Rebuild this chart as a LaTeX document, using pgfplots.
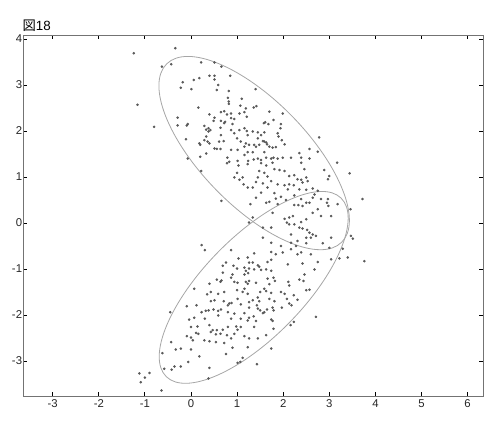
\documentclass[border=0pt]{standalone}
\usepackage{pgfplots}
\pgfplotsset{compat=1.18}
\usepackage{pgfplotstable}
\usepackage{fontspec}
\setmainfont{Liberation Sans}
\newfontfamily\cjk{Noto Sans CJK JP}

\pgfplotstableread{
x y
-0.34 3.80
-1.24 3.69
-0.63 3.40
-0.43 3.45
0.22 3.49
0.51 3.49
0.66 3.40
0.40 3.20
0.51 3.20
0.51 3.12
0.85 3.20
0.06 3.11
0.18 3.15
-0.18 3.06
-0.22 2.94
0.01 2.91
0.59 3.00
0.56 2.89
0.82 2.87
0.80 2.72
1.10 2.70
0.82 2.64
0.82 2.59
-1.16 2.57
0.16 2.51
1.07 2.55
1.19 2.49
0.65 2.41
0.72 2.43
0.78 2.36
0.87 2.38
1.05 2.38
1.16 2.41
0.40 2.36
0.51 2.29
-0.29 2.29
0.94 2.26
0.49 2.22
0.65 2.22
0.74 2.20
0.87 2.28
1.21 2.31
-0.80 2.09
-0.29 2.12
-0.09 2.12
-0.07 2.15
0.29 2.11
0.38 2.06
0.33 2.03
0.38 1.99
0.42 2.02
0.64 2.07
0.72 2.17
0.90 2.15
0.87 2.02
1.05 2.02
1.16 2.06
1.21 2.00
0.94 1.95
1.23 1.91
0.33 1.88
0.65 1.91
0.29 1.80
0.36 1.77
1.00 1.84
1.08 1.77
1.19 1.73
-0.11 1.82
0.18 1.73
0.20 1.70
0.40 1.73
0.61 1.77
0.71 1.78
0.51 1.62
0.56 1.61
0.64 1.61
1.16 1.66
1.26 1.70
0.87 1.59
1.01 1.59
0.33 1.51
1.23 1.54
1.16 1.48
1.40 2.91
1.36 2.51
1.42 2.54
1.70 2.42
1.99 2.38
1.61 2.19
1.58 2.17
1.68 2.15
1.79 2.24
1.95 2.15
1.94 2.06
1.34 1.99
1.45 1.97
1.59 1.97
1.52 1.91
1.88 1.95
1.90 1.88
1.97 1.80
1.45 1.84
1.56 1.78
1.59 1.77
1.63 1.75
1.65 1.71
1.37 1.70
1.48 1.70
1.41 1.66
1.70 1.66
1.77 1.64
1.84 1.65
2.03 1.71
1.59 1.54
1.34 1.54
2.35 1.52
2.57 1.61
2.75 1.55
2.78 1.86
-0.07 1.40
0.20 1.44
0.79 1.42
0.83 1.33
0.78 1.30
1.01 1.35
1.03 1.25
1.23 1.28
1.24 1.35
0.22 1.13
1.00 1.09
0.94 0.99
1.12 0.99
1.05 0.94
1.14 0.84
1.23 0.77
0.66 0.48
1.29 0.41
1.26 0.01
1.36 1.38
1.45 1.40
1.52 1.37
1.63 1.42
1.74 1.40
1.79 1.42
1.88 1.40
1.99 1.42
2.17 1.42
2.39 1.42
2.57 1.40
1.52 1.30
1.63 1.25
1.77 1.31
1.81 1.17
1.92 1.15
2.03 1.13
2.39 1.31
2.46 1.17
1.48 1.13
1.59 1.09
1.45 0.99
1.66 1.01
1.74 0.91
1.41 0.89
2.13 1.02
2.24 1.04
2.31 0.95
2.39 0.94
2.50 0.99
2.53 0.91
2.42 0.88
2.89 1.15
3.17 1.31
3.44 1.08
3.00 1.02
2.97 0.95
1.34 0.77
1.56 0.86
1.88 0.84
2.03 0.82
2.13 0.84
2.23 0.82
2.10 0.73
2.35 0.73
2.50 0.72
2.64 0.75
1.66 0.77
2.24 0.60
2.75 0.70
2.68 0.62
2.64 0.55
2.82 0.52
2.97 0.52
1.81 0.65
1.84 0.53
1.95 0.57
1.52 0.66
1.41 0.55
1.63 0.44
1.70 0.46
1.88 0.41
2.06 0.50
2.39 0.52
2.50 0.44
2.24 0.39
2.33 0.39
2.42 0.37
2.57 0.44
2.95 0.44
2.98 0.37
2.75 0.30
2.64 0.22
3.18 0.41
3.46 0.30
3.72 0.52
1.34 0.12
1.77 0.22
2.03 0.09
2.13 0.12
2.21 0.15
2.08 0.01
2.13 -0.03
2.24 -0.03
2.39 0.02
2.50 0.08
2.82 0.15
3.04 0.15
1.56 -0.10
1.74 -0.10
2.35 -0.10
2.42 -0.12
2.52 -0.15
2.57 -0.21
2.64 -0.25
2.60 -0.32
2.71 -0.28
3.04 -0.32
2.17 -0.25
2.31 -0.39
2.50 -0.32
1.56 -0.32
1.74 -0.43
1.95 -0.50
2.17 -0.43
2.28 -0.50
2.50 -0.44
2.86 -0.44
3.00 -0.54
3.29 -0.56
3.47 -0.28
3.51 -0.34
1.37 -0.66
1.74 -0.63
1.84 -0.68
1.99 -0.64
2.17 -0.57
2.31 -0.68
2.39 -0.64
2.60 -0.68
1.34 -0.86
1.45 -0.92
1.48 -0.95
1.66 -0.85
1.74 -0.80
2.10 -0.90
2.42 -0.88
2.75 -0.85
3.04 -0.79
3.22 -0.77
3.40 -0.75
3.76 -0.83
1.63 -1.01
1.74 -1.04
1.37 -1.01
1.52 -1.02
2.46 -1.12
2.68 -1.01
0.23 -0.48
0.30 -0.59
0.87 -0.59
1.03 -0.77
1.23 -0.75
0.76 -0.86
0.69 -0.93
0.92 -0.93
1.00 -0.99
1.16 -0.97
1.26 -0.86
1.26 -0.99
1.19 -1.04
0.69 -1.08
0.90 -1.12
1.16 -1.12
1.24 -1.09
0.07 -1.43
0.40 -1.32
0.56 -1.23
0.64 -1.28
0.66 -1.25
0.87 -1.19
0.94 -1.28
1.01 -1.30
1.19 -1.28
1.23 -1.32
1.26 -1.26
0.35 -1.55
0.43 -1.50
0.59 -1.54
0.72 -1.50
1.00 -1.46
1.12 -1.50
1.23 -1.54
1.16 -1.43
0.43 -1.70
0.51 -1.68
0.71 -1.70
0.83 -1.75
0.80 -1.79
0.88 -1.74
1.01 -1.65
1.08 -1.77
1.26 -1.72
-0.09 -1.81
0.12 -1.79
0.23 -1.94
0.32 -1.91
0.38 -1.90
0.49 -1.88
0.59 -1.91
0.65 -1.88
0.80 -1.94
0.94 -1.97
1.16 -1.96
1.26 -1.84
-0.45 -1.94
-0.04 -2.10
0.07 -2.06
0.30 -2.08
0.59 -2.01
0.87 -2.08
1.08 -2.08
1.23 -2.12
1.26 -2.06
0.00 -2.26
0.14 -2.25
0.40 -2.22
0.47 -2.33
0.56 -2.33
0.69 -2.32
0.80 -2.26
0.98 -2.25
1.01 -2.32
1.08 -2.26
-0.09 -2.46
0.00 -2.49
0.11 -2.39
0.16 -2.41
0.43 -2.37
0.54 -2.42
0.64 -2.41
0.78 -2.44
0.87 -2.51
0.94 -2.41
1.16 -2.46
1.26 -2.51
0.04 -2.55
0.29 -2.55
0.40 -2.57
0.54 -2.59
0.72 -2.61
0.90 -2.71
1.23 -2.70
-0.43 -2.59
-0.33 -2.75
-0.22 -2.73
0.00 -2.75
-0.62 -2.83
0.18 -2.90
0.76 -2.85
1.12 -2.93
1.07 -3.02
1.01 -3.04
-0.06 -3.02
-0.22 -3.12
-0.36 -3.12
-0.42 -3.19
-0.58 -3.17
0.40 -3.15
-1.12 -3.27
-0.90 -3.26
-1.00 -3.36
-1.09 -3.46
0.38 -3.38
-0.64 -3.64
1.41 -1.30
1.66 -1.21
1.79 -1.19
1.82 -1.26
1.70 -1.33
1.59 -1.43
1.63 -1.48
1.74 -1.52
1.50 -1.50
1.34 -1.68
1.70 -1.65
2.11 -1.28
2.13 -1.36
2.35 -1.23
2.44 -1.26
2.50 -1.46
2.57 -1.45
1.95 -1.50
2.03 -1.54
2.23 -1.57
2.31 -1.67
2.08 -1.65
2.13 -1.75
2.18 -1.79
1.81 -1.70
1.45 -1.62
1.48 -1.70
1.43 -1.79
1.45 -1.86
1.50 -1.90
1.59 -1.94
1.56 -1.96
1.65 -1.88
1.77 -1.84
1.79 -1.90
1.97 -1.84
1.36 -2.03
1.41 -2.13
1.74 -2.10
1.77 -2.13
1.37 -2.26
1.79 -2.30
2.23 -2.15
2.16 -2.22
2.71 -2.04
1.63 -2.44
1.45 -2.51
1.74 -2.73
1.43 -3.07
}\pts

\begin{document}
\begin{tikzpicture}
\useasboundingbox (-17.25pt,-25.875pt) rectangle (353.25pt,297.375pt);
\begin{axis}[
  name=ax,
  scale only axis,
  width=345pt, height=270.75pt,
  xmin=-3.644, xmax=6.334,
  ymin=-3.772, ymax=4.076,
  xtick={-3,...,6}, ytick={-3,...,4},
  tick align=inside, tick pos=both,
  major tick length=3pt,
  axis line style={black!55, line width=0.6pt},
  tick style={black, line width=0.7pt},
  ticklabel style={font=\fontsize{8.5}{10}\selectfont, text=black!85},
  /pgf/number format/assume math mode=true,
  yticklabel style={inner sep=0.5pt},
  xticklabel style={inner sep=2pt},
  clip=false,
]
\addplot[only marks, mark=*, mark size=0.75pt, black!65] table[x=x,y=y] {\pts};
\draw[black!35, line width=0.6pt, rotate around={-45.6:(axis cs:1.37,1.52)}] (axis cs:1.37,1.52) ellipse [x radius=2.71, y radius=1.15];
\draw[black!35, line width=0.6pt, rotate around={45.6:(axis cs:1.36,-1.40)}] (axis cs:1.36,-1.40) ellipse [x radius=2.71, y radius=1.09];
\node[anchor=base west, inner sep=0pt, font=\fontsize{10}{12}\selectfont] at ([xshift=-0.5pt,yshift=3.5pt]rel axis cs:0,1) {{\cjk 図}18};
\end{axis}
\end{tikzpicture}
\end{document}
